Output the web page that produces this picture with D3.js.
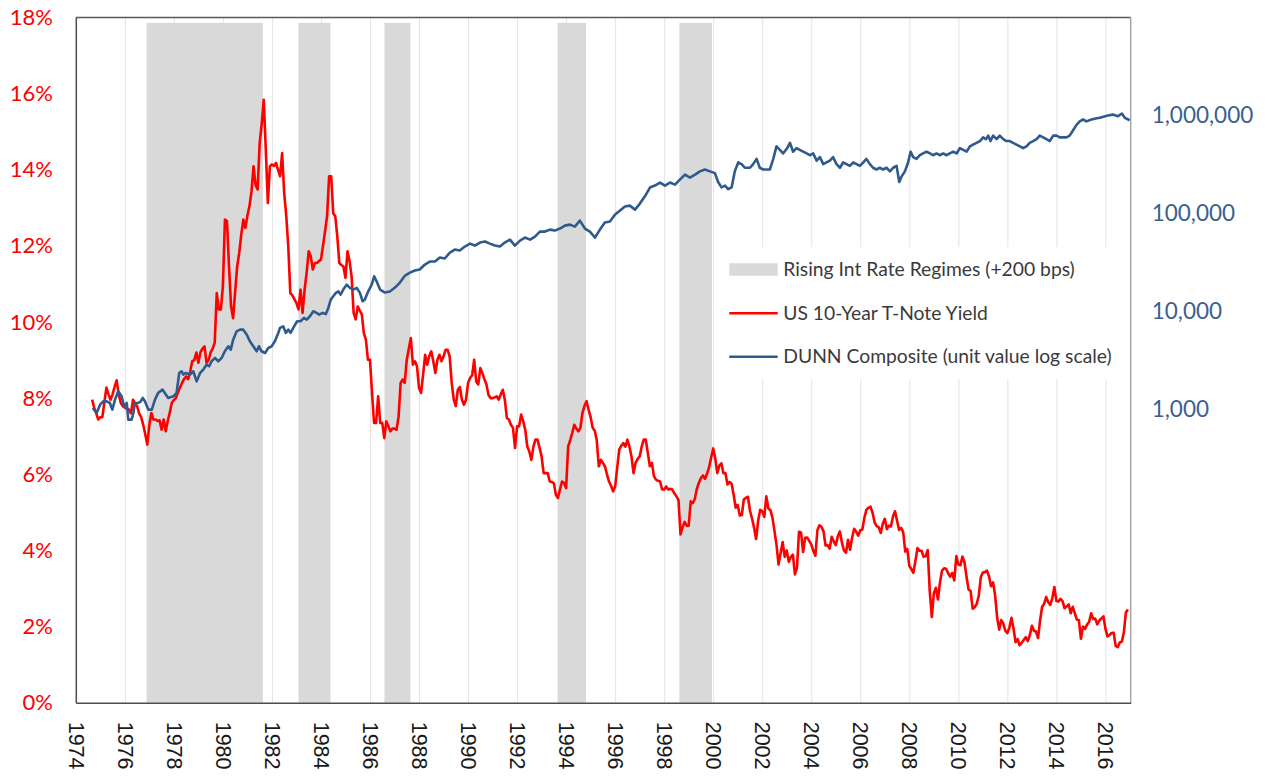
<!DOCTYPE html>
<html>
<head>
<meta charset="utf-8">
<script src="https://cdn.jsdelivr.net/npm/d3@7"></script>
<style>
html,body{margin:0;padding:0;background:#fff;}
svg{display:block;}
</style>
</head>
<body>
<svg id="chart" width="1265" height="776"></svg>
<script>
// ---------------- DATA ----------------
const yearTicks = [1974,1976,1978,1980,1982,1984,1986,1988,1990,1992,1994,1996,1998,2000,2002,2004,2006,2008,2010,2012,2014,2016];
const pctTicks = [0,2,4,6,8,10,12,14,16,18];
const logTicks = [1000,10000,100000,1000000];
const legendLabels = ["Rising Int Rate Regimes (+200 bps)","US 10-Year T-Note Yield","DUNN Composite (unit value log scale)"];

// Rising interest-rate regimes (+200 bps), decimal years
const bandRanges = [[1976.89,1981.63],[1983.08,1984.39],[1986.59,1987.65],[1993.65,1994.81],[1998.62,1999.95]];

// US 10-year yield (%), monthly, starting Sep 1974
const yieldFirstMonth = [1974, 9];
const yield1970s = [
 7.96,7.75,7.6,7.44,
 7.5,7.5,7.9,8.28,8.1,7.96,8.1,8.3,8.47,8.1,7.88,7.79,
 7.75,7.72,7.7,7.6,7.96,7.85,7.79,7.6,7.5,7.3,7.05,6.78,
 7.3,7.61,7.44,7.44,7.4,7.42,7.17,7.44,7.13,7.4,7.62,7.88,
 7.95,8.01,8.15,8.28,8.4,8.5,8.57,8.5,8.7,8.97,9.0,9.2,
 8.93,9.2,9.3,9.36,8.93,9.0,9.2,9.3,9.46,10.76,10.33,10.33];
const yield1980s = [
 10.94,12.69,12.65,11.46,10.41,10.1,10.8,11.46,11.82,12.3,12.69,12.47,
 12.8,13.04,13.43,14.09,13.6,13.48,14.7,15.2,15.84,14.53,13.13,14.09,
 14.14,14.1,14.18,14.0,13.83,14.44,13.39,12.8,11.99,10.76,10.7,10.6,
 10.5,10.33,10.85,10.24,10.85,11.3,11.86,11.73,11.38,11.55,11.55,11.6,
 11.64,12.0,12.38,12.78,13.83,13.83,12.86,12.78,12.25,11.55,11.5,11.46,
 11.16,11.86,11.6,11.2,10.24,10.07,10.41,10.3,10.2,9.71,9.54,9.01,
 9.01,8.14,7.35,7.35,8.05,7.35,7.35,6.95,7.39,7.26,7.13,7.2,
 7.2,7.17,7.52,8.4,8.49,8.4,9.01,9.3,9.58,8.88,8.97,8.84,
 8.27,8.14,8.62,9.14,8.88,9.1,9.23,8.97,8.66,9.01,9.14,8.97,
 9.1,9.27,9.27,9.1,8.4,7.96,7.79,8.22,8.29,7.96,7.83,7.96];
const yield1990s = [
 8.4,8.53,8.6,9.01,8.44,8.36,8.79,8.66,8.5,8.36,8.09,8.0,
 8.0,8.02,8.05,7.96,8.1,8.22,7.96,7.48,7.44,7.3,7.22,6.69,
 7.26,7.26,7.57,7.39,7.17,6.73,6.6,6.38,6.73,6.91,6.91,6.7,
 6.47,6.03,6.03,6.03,5.81,5.8,5.77,5.46,5.38,5.6,5.81,5.77,
 5.64,6.73,6.9,7.09,7.3,7.2,7.13,7.22,7.61,7.8,7.92,7.7,
 7.5,7.22,7.15,6.9,6.21,6.38,6.3,6.21,6.0,5.81,5.7,5.55,
 5.68,6.17,6.65,6.75,6.82,6.73,6.91,6.73,6.47,6.03,6.3,6.4,
 6.47,6.73,6.91,6.91,6.56,6.21,6.3,5.95,5.86,5.83,5.81,5.6,
 5.6,5.68,5.6,5.62,5.6,5.5,5.42,5.33,4.42,4.61,4.75,4.65,
 4.65,5.29,5.24,5.35,5.62,5.78,5.9,5.97,5.88,6.02,6.19,6.44];
const yield2000s = [
 6.68,6.42,6.03,6.23,6.29,6.03,6.03,5.73,5.80,5.75,5.47,5.12,
 5.19,4.92,4.93,5.34,5.38,5.41,5.05,4.84,4.60,4.30,4.78,5.07,
 5.03,4.88,5.42,5.10,5.06,4.86,4.51,4.14,3.63,3.93,4.22,3.83,
 4.00,3.70,3.83,3.89,3.37,3.54,4.49,4.47,3.96,4.33,4.34,4.25,
 4.16,3.99,3.86,4.53,4.66,4.62,4.50,4.13,4.14,4.05,4.36,4.24,
 4.14,4.37,4.50,4.21,4.00,3.94,4.28,4.02,4.34,4.57,4.49,4.39,
 4.53,4.55,4.86,5.07,5.12,5.15,4.99,4.74,4.64,4.61,4.46,4.70,
 4.83,4.56,4.65,4.63,4.89,5.03,4.78,4.54,4.59,4.48,3.97,4.04,
 3.59,3.51,3.41,3.73,4.06,3.99,3.99,3.83,3.85,4.01,2.93,2.25,
 2.87,3.02,2.71,3.16,3.47,3.53,3.52,3.40,3.31,3.41,3.21,3.85];
const yield2010s = [
 3.63,3.61,3.84,3.69,3.31,2.97,2.94,2.47,2.51,2.60,2.81,3.30,
 3.42,3.43,3.47,3.32,3.06,3.16,2.82,2.23,1.92,2.17,2.08,1.89,
 1.83,1.98,2.23,1.95,1.59,1.67,1.51,1.57,1.65,1.72,1.62,1.78,
 2.02,1.89,1.87,1.70,2.16,2.52,2.60,2.78,2.64,2.57,2.75,3.04,
 2.67,2.66,2.73,2.67,2.48,2.53,2.58,2.35,2.52,2.35,2.18,2.17,
 1.68,2.00,1.94,2.05,2.12,2.35,2.20,2.21,2.06,2.16,2.21,2.27,
 1.94,1.74,1.78,1.83,1.84,1.49,1.46,1.58,1.60,1.84,2.37,2.45];

// DUNN Composite unit value, [decimal year, value]
const dunnSeries = [
 [1974.69,1026],[1974.85,912],[1974.99,1109],[1975.12,1199],[1975.26,1199],[1975.39,1153],[1975.49,986],[1975.6,1247],
 [1975.73,1517],[1975.87,1349],[1975.97,1067],[1976.08,1153],[1976.14,780],[1976.28,780],[1976.35,912],[1976.41,1153],
 [1976.55,1153],[1976.65,1199],[1976.73,1297],[1976.82,1199],[1976.96,986],[1977.1,986],[1977.23,1247],[1977.36,1462],
 [1977.54,1578],[1977.68,1403],[1977.77,1297],[1977.98,1349],[1978.11,1462],[1978.22,2339],[1978.32,2432],[1978.38,2249],
 [1978.49,2339],[1978.66,2249],[1978.79,2432],[1978.93,1919],[1979.07,2339],[1979.2,2529],[1979.34,2844],[1979.44,2735],
 [1979.54,3076],[1979.68,3327],[1979.81,3076],[1979.95,3327],[1980.08,3890],[1980.22,4375],[1980.32,4046],[1980.42,5117],
 [1980.56,6223],[1980.7,6471],[1980.83,6471],[1980.97,5768],[1981.1,4920],[1981.24,4375],[1981.38,3890],[1981.47,4375],
 [1981.58,3890],[1981.72,3741],[1981.85,4207],[1981.99,4375],[1982.12,4920],[1982.26,5998],[1982.33,6745],[1982.46,6998],
 [1982.57,5998],[1982.67,6471],[1982.76,5998],[1982.87,6745],[1983.03,7889],[1983.17,7889],[1983.31,8531],[1983.42,8204],
 [1983.55,8872],[1983.69,9977],[1983.82,9594],[1983.93,9226],[1984.07,9594],[1984.2,9333],[1984.3,10790],[1984.4,13120],
 [1984.5,14190],[1984.61,15380],[1984.71,15960],[1984.8,14760],[1984.91,16600],[1985.05,18660],[1985.18,17260],[1985.32,16600],
 [1985.46,17260],[1985.59,15380],[1985.7,12620],[1985.79,13120],[1985.93,15960],[1986.07,18660],[1986.17,22700],[1986.27,20180],
 [1986.41,16600],[1986.61,15490],[1986.81,15850],[1987.02,17410],[1987.22,19590],[1987.43,23080],[1987.63,24770],[1987.83,26000],
 [1988.03,26610],[1988.24,29930],[1988.44,32120],[1988.65,32120],[1988.85,35300],[1989.05,34510],[1989.26,39720],[1989.46,42560],
 [1989.66,41590],[1989.87,45710],[1990.08,48980],[1990.28,46770],[1990.49,50230],[1990.69,51400],[1990.89,48980],[1991.1,46770],
 [1991.3,45710],[1991.5,50230],[1991.71,53830],[1991.91,46770],[1992.12,52600],[1992.32,56490],[1992.53,53830],[1992.73,57810],
 [1992.93,65010],[1993.14,65010],[1993.34,68080],[1993.54,66530],[1993.75,69820],[1993.95,74820],[1994.16,76560],[1994.36,73110],
 [1994.56,84140],[1994.77,69820],[1994.97,65010],[1995.18,56490],[1995.38,68080],[1995.58,80350],[1995.79,82220],[1995.99,96610],
 [1996.2,106600],[1996.4,117000],[1996.6,119700],[1996.81,108900],[1997.01,125600],[1997.22,150000],[1997.42,183200],[1997.62,191900],
 [1997.83,206100],[1998.03,191900],[1998.24,206100],[1998.44,196400],[1998.64,220800],[1998.85,248500],[1999.05,231700],[1999.26,248500],
 [1999.46,267900],[1999.66,279900],[1999.87,267900],[2000.07,257000],[2000.2,208400],[2000.34,183700],[2000.48,191400],[2000.61,176200],
 [2000.75,183700],[2000.88,267900],[2001.02,330400],[2001.16,317700],[2001.29,291700],[2001.5,291700],[2001.63,317700],[2001.77,359700],
 [2001.9,291700],[2002.04,279900],[2002.18,279900],[2002.31,279900],[2002.45,359700],[2002.58,483100],[2002.72,443600],[2002.85,408300],
 [2003.02,462400],[2003.13,524800],[2003.26,425600],[2003.4,462400],[2003.53,443600],[2003.67,425600],[2003.81,408300],[2003.94,391700],
 [2004.08,408300],[2004.22,345100],[2004.35,375000],[2004.49,317700],[2004.62,330400],[2004.76,345100],[2004.89,375000],[2005.03,317700],
 [2005.17,291700],[2005.3,330400],[2005.44,317700],[2005.57,304800],[2005.71,330400],[2005.85,317700],[2005.98,304800],[2006.12,330400],
 [2006.25,359700],[2006.39,317700],[2006.52,291700],[2006.66,279900],[2006.8,291700],[2006.93,279900],[2007.07,291700],[2007.21,267900],
 [2007.34,291700],[2007.48,304800],[2007.59,208400],[2007.68,236600],[2007.82,267900],[2007.95,330400],[2008.05,425600],[2008.16,375000],
 [2008.29,359700],[2008.43,391700],[2008.56,408300],[2008.7,425600],[2008.84,408300],[2008.97,391700],[2009.11,408300],[2009.24,391700],
 [2009.38,408300],[2009.52,391700],[2009.65,408300],[2009.79,425600],[2009.93,408300],[2010.06,462400],[2010.2,443600],[2010.34,425600],
 [2010.47,483100],[2010.6,503500],[2010.74,524800],[2010.88,547000],[2011.01,595700],[2011.12,571500],[2011.22,620900],[2011.31,547000],
 [2011.42,620900],[2011.56,571500],[2011.69,620900],[2011.83,571500],[2011.96,547000],[2012.1,547000],[2012.23,524800],[2012.37,503500],
 [2012.51,483100],[2012.64,462400],[2012.78,483100],[2012.91,524800],[2013.05,547000],[2013.19,571500],[2013.32,620900],[2013.46,595700],
 [2013.59,571500],[2013.73,547000],[2013.87,620900],[2014.0,620900],[2014.14,595700],[2014.27,595700],[2014.41,595700],[2014.54,620900],
 [2014.68,704700],[2014.82,799800],[2014.95,869000],[2015.09,907800],[2015.22,869000],[2015.43,907800],[2015.6,930000],[2015.77,944100],
 [2016.1,995400],[2016.3,1018600],[2016.51,979500],[2016.67,1044700],[2016.79,944100],[2016.99,891300]];

// ---------------- CHART ----------------
const W = 1265, H = 776;
const M = {left: 75.8, right: 1130.7, top: 17.5, bottom: 702.7};
const svg = d3.select("#chart");
svg.append("rect").attr("width", W).attr("height", H).attr("fill", "#fff");

const x = d3.scaleLinear().domain([1974, 2017.03]).range([M.left, M.right]);
const yL = d3.scaleLinear().domain([0, 18]).range([M.bottom, M.top]);
const yR = d3.scaleLog().domain([1, 1e7]).range([M.bottom, M.top]);

const yieldValues = [].concat(yield1970s, yield1980s, yield1990s, yield2000s, yield2010s);
const yieldSeries = yieldValues.map((v, i) => [yieldFirstMonth[0] + (yieldFirstMonth[1] - 1 + i) / 12, v]);

// vertical gridlines
const grid = svg.append("g").attr("transform", `translate(0,${M.bottom})`)
  .call(d3.axisBottom(x).tickValues(yearTicks.slice(1)).tickSize(-(M.bottom - M.top)).tickFormat(""));
grid.select(".domain").remove();
grid.selectAll("line").attr("stroke", "#e3e3e3").attr("stroke-width", 1);

// bands
const bandTopPct = 17.86;
svg.append("g").selectAll("rect").data(bandRanges).join("rect")
  .attr("x", d => x(d[0])).attr("width", d => x(d[1]) - x(d[0]))
  .attr("y", yL(bandTopPct)).attr("height", yL(0) - yL(bandTopPct))
  .attr("fill", "#d9d9d9");

// legend background
const lg = svg.append("g");
lg.append("rect").attr("x", 718).attr("y", 247).attr("width", 408).attr("height", 132).attr("fill", "#fff");

// borders
svg.append("line").attr("x1", M.left).attr("x2", M.right).attr("y1", M.top).attr("y2", M.top).attr("stroke", "#5a5a5a").attr("stroke-width", 1.3);
svg.append("line").attr("x1", M.right).attr("x2", M.right).attr("y1", M.top).attr("y2", M.bottom).attr("stroke", "#a6a6a6").attr("stroke-width", 1.5);

// lines
const lineY = d3.line().x(d => x(d[0])).y(d => yL(d[1]));
const lineD = d3.line().x(d => x(d[0])).y(d => yR(d[1]));
svg.append("path").datum(yieldSeries).attr("d", lineY).attr("fill", "none")
  .attr("stroke", "#ff0000").attr("stroke-width", 2.6).attr("stroke-linejoin", "round");
svg.append("path").datum(dunnSeries).attr("d", lineD).attr("fill", "none")
  .attr("stroke", "#2f5a8e").attr("stroke-width", 2.6).attr("stroke-linejoin", "round");

// left axis
const gL = svg.append("g").attr("transform", `translate(${M.left},0)`)
  .call(d3.axisLeft(yL).tickValues(pctTicks).tickSize(0).tickPadding(23).tickFormat(d => d + "%"));
gL.select(".domain").attr("stroke", "#4d4d4d").attr("stroke-width", 1.5);
gL.selectAll("text").attr("fill", "#ff0000").style("font-family", "Lato, sans-serif").style("font-size", "22px");

// right axis
const gR = svg.append("g").attr("transform", `translate(${M.right},0)`)
  .call(d3.axisRight(yR).tickValues(logTicks).tickSize(0).tickPadding(21).tickFormat(d3.format(",")));
gR.select(".domain").remove();
gR.selectAll("text").attr("fill", "#3b5f8e").style("font-family", "Lato, sans-serif").style("font-size", "22.5px");

// bottom axis
const gB = svg.append("g").attr("transform", `translate(0,${M.bottom})`)
  .call(d3.axisBottom(x).tickValues(yearTicks).tickSize(0).tickFormat(d3.format("d")));
gB.select(".domain").attr("stroke", "#4d4d4d").attr("stroke-width", 1.5);
gB.selectAll("text")
  .attr("transform", "rotate(90)").attr("x", 19).attr("y", 0).attr("dy", "0.35em")
  .style("text-anchor", "start").attr("fill", "#1a1a1a")
  .style("font-family", "'Liberation Sans', Arial, sans-serif").style("font-size", "21.5px");

// legend
const legY = [269.5, 313.3, 356.7];
lg.append("rect").attr("x", 729.3).attr("y", legY[0] - 6.2).attr("width", 48.4).attr("height", 12.4).attr("fill", "#d9d9d9");
lg.append("line").attr("x1", 729.3).attr("x2", 777.7).attr("y1", legY[1]).attr("y2", legY[1]).attr("stroke", "#ff0000").attr("stroke-width", 2.6);
lg.append("line").attr("x1", 729.3).attr("x2", 777.7).attr("y1", legY[2]).attr("y2", legY[2]).attr("stroke", "#2f5a8e").attr("stroke-width", 2.6);
lg.selectAll("text").data(legendLabels).join("text")
  .attr("x", 783.3).attr("y", (d, i) => legY[i]).attr("dy", "0.35em")
  .attr("fill", "#3a3a3a").style("font-family", "Lato, sans-serif").style("font-size", "19.3px")
  .text(d => d);
</script>
</body>
</html>
